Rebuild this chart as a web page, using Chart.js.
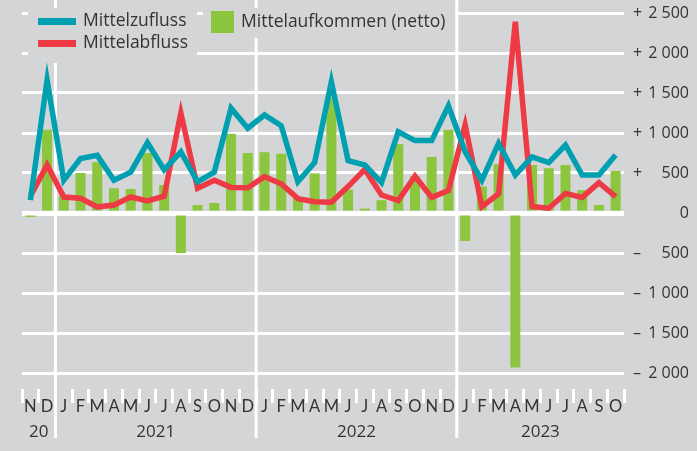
<!DOCTYPE html>
<html>
<head>
<meta charset="utf-8">
<script src="https://cdn.jsdelivr.net/npm/chart.js@4.4.1/dist/chart.umd.min.js"></script>
<style>
  html, body { margin: 0; padding: 0; background: #d4d5d7; }
  #wrap { width: 697px; height: 451px; }
</style>
</head>
<body>
<div id="wrap"><canvas id="chart"></canvas></div>
<script>
const months = ["N","D","J","F","M","A","M","J","J","A","S","O","N","D",
  "J","F","M","A","M","J","J","A","S","O","N","D",
  "J","F","M","A","M","J","J","A","S","O"];
const years = ["20", "2021", "2022", "2023"];
const yearStart = [0, 2, 14, 26];

const inflow = [160, 1660, 410, 680, 720, 410, 510, 880, 540, 765, 390, 510, 1310, 1060,
  1225, 1090, 390, 630, 1640, 655, 600, 380, 1015, 905, 905, 1340,
  765, 410, 870, 475, 700, 630, 850, 475, 475, 725];
const outflow = [210, 600, 200, 185, 75, 100, 200, 150, 210, 1250, 310, 410, 320, 315,
  455, 365, 180, 140, 135, 330, 545, 225, 155, 460, 195, 280,
  1100, 80, 240, 2390, 80, 60, 245, 195, 380, 205];
const net = [-50, 1040, 210, 500, 635, 310, 300, 750, 350, -500, 100, 125, 990, 750,
  760, 740, 200, 495, 1440, 290, 55, 160, 860, 460, 700, 1040,
  -350, 330, 610, -1930, 600, 560, 600, 285, 100, 525];

const yTicks = [2500, 2000, 1500, 1000, 500, 0, -500, -1000, -1500, -2000];

const BG = "#d4d5d7";
const TEXT = "#333333";
const FONT = "'Open Sans', 'Noto Sans', sans-serif";

function fmt(v) {
  const a = Math.abs(v);
  return a >= 1000 ? Math.floor(a / 1000) + " " + String(a % 1000).padStart(3, "0") : String(a);
}

const decor = {
  id: "decor",
  beforeDraw(chart) {
    const { ctx, width, height } = chart;
    ctx.save();
    ctx.fillStyle = BG;
    ctx.fillRect(0, 0, width, height);
    ctx.restore();
  },
  beforeDatasetsDraw(chart) {
    const { ctx } = chart;
    const x = chart.scales.x;
    ctx.save();
    // year separators
    ctx.strokeStyle = "#ffffff";
    ctx.lineWidth = 3;
    yearStart.slice(1).forEach(s => {
      const px = (x.getPixelForValue(s - 1) + x.getPixelForValue(s)) / 2;
      ctx.beginPath();
      ctx.moveTo(px, 0);
      ctx.lineTo(px, 438);
      ctx.stroke();
    });
    // legend backgrounds cover the grid
    ctx.fillStyle = BG;
    ctx.fillRect(28, 8, 169, 55);
    ctx.fillRect(203, 8, 252, 30);
    ctx.restore();
  },
  afterDraw(chart) {
    const { ctx } = chart;
    const x = chart.scales.x, y = chart.scales.y;
    const ds = chart.data.datasets;
    ctx.save();
    ctx.fillStyle = TEXT;
    ctx.textBaseline = "middle";

    // right axis labels
    ctx.font = "16px " + FONT;
    yTicks.forEach(v => {
      const py = y.getPixelForValue(v);
      ctx.textAlign = "right";
      ctx.fillText(fmt(v), 689, py);
      if (v !== 0) {
        ctx.textAlign = "left";
        ctx.fillText(v > 0 ? "+" : "\u2013", 633, py);
      }
    });

    // month labels
    ctx.textAlign = "center";
    ctx.font = "16.5px Lato, " + FONT;
    months.forEach((m, i) => ctx.fillText(m, x.getPixelForValue(i), 407));

    // year labels
    ctx.font = "17px " + FONT;
    years.forEach((yr, k) => {
      const a = yearStart[k];
      const b = k + 1 < yearStart.length ? yearStart[k + 1] - 1 : months.length - 1;
      const px = (x.getPixelForValue(a) + x.getPixelForValue(b)) / 2;
      ctx.fillText(yr, px, 432);
    });

    // legend
    ctx.textAlign = "left";
    ctx.font = "17.5px " + FONT;
    const lines = [ds[1], ds[2]];
    lines.forEach((d, i) => {
      const cy = 21.5 + i * 22;
      ctx.strokeStyle = d.borderColor;
      ctx.lineWidth = 7;
      ctx.beginPath();
      ctx.moveTo(38, cy);
      ctx.lineTo(76, cy);
      ctx.stroke();
      ctx.fillStyle = TEXT;
      ctx.fillText(d.label, 83, cy);
    });
    ctx.fillStyle = ds[0].backgroundColor;
    ctx.fillRect(211, 11, 23, 22);
    ctx.fillStyle = TEXT;
    ctx.fillText(ds[0].label, 241, 22.5);
    ctx.restore();
  }
};

new Chart(document.getElementById("chart"), {
  type: "bar",
  data: {
    labels: months,
    datasets: [
      {
        type: "bar",
        label: "Mittelaufkommen (netto)",
        data: net,
        backgroundColor: "#8cc63f",
        barPercentage: 0.6,
        categoryPercentage: 1,
        order: 3
      },
      {
        type: "line",
        label: "Mittelzufluss",
        data: inflow,
        borderColor: "#00a0b0",
        borderWidth: 5.5,
        pointRadius: 0,
        tension: 0,
        order: 1
      },
      {
        type: "line",
        label: "Mittelabfluss",
        data: outflow,
        borderColor: "#ee3a45",
        borderWidth: 5.5,
        pointRadius: 0,
        tension: 0,
        order: 2
      }
    ]
  },
  options: {
    responsive: true,
    maintainAspectRatio: false,
    animation: false,
    layout: { padding: { left: 22, right: 73, top: 13, bottom: 48 } },
    plugins: { legend: { display: false }, tooltip: { enabled: false } },
    scales: {
      x: {
        border: { display: false },
        grid: {
          offset: true,
          drawOnChartArea: false,
          color: "#ffffff",
          lineWidth: 3,
          tickLength: 14
        },
        ticks: { display: false }
      },
      y: {
        position: "right",
        min: -2200,
        max: 2500,
        border: { display: false },
        afterBuildTicks: scale => { scale.ticks = yTicks.map(v => ({ value: v })); },
        grid: {
          color: "#ffffff",
          lineWidth: c => (c.tick && c.tick.value === 0 ? 5 : 3),
          drawTicks: false
        },
        ticks: { display: false }
      }
    }
  },
  plugins: [decor]
});
</script>
</body>
</html>
